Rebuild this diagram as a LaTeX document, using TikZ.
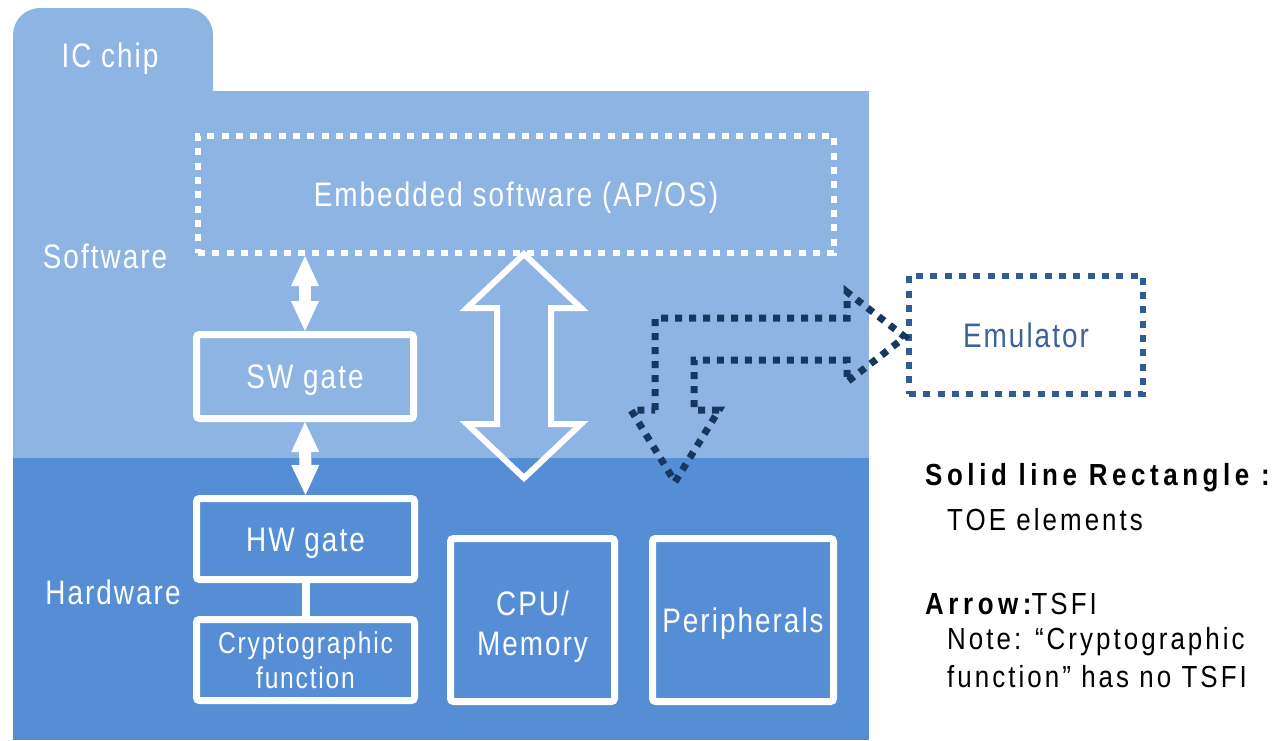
\documentclass[tikz,border=0pt]{standalone}
\usepackage{fontspec}
\setmainfont{Liberation Sans}
\newfontfamily\labfont[FakeStretch=0.82,LetterSpace=6]{Liberation Sans}
\newfontfamily\legfont[FakeStretch=0.85,LetterSpace=10,BoldFeatures={LetterSpace=15}]{Liberation Sans}
\usetikzlibrary{arrows.meta}
\definecolor{lightbg}{HTML}{8EB4E3}
\definecolor{darkbg}{HTML}{558ED5}
\definecolor{arrowdk}{HTML}{17375E}
\definecolor{emuline}{HTML}{2F5C92}
\definecolor{emutext}{HTML}{3B6299}
\begin{document}
\begin{tikzpicture}[x=1pt,y=-1pt,
  lab/.style={text=white, font=\labfont\fontsize{34}{40}\selectfont, align=center},
  oneline/.style={text height=24pt, text depth=0pt},
  toebox/.style={draw=white, line width=7pt, rounded corners=3pt, inner sep=0pt, lab},
  wdots/.style={draw=white, line width=6pt, dash pattern=on 7pt off 7.3pt},
  ddots/.style={draw=arrowdk, line width=7pt, dash pattern=on 7pt off 7pt},
  dblarrow/.style={draw=white, line width=12pt, {Triangle[length=30pt,width=28pt,line width=0pt]}-{Triangle[length=30pt,width=28pt,line width=0pt]}},
  legtext/.style={anchor=west, inner sep=0pt, font=\legfont\fontsize{30.5}{36}\selectfont}
]
\useasboundingbox (0,0) rectangle (1277,740);
% background
\fill[lightbg, rounded corners=27pt] (13,8) rectangle (213,130);
\fill[lightbg] (13,91) rectangle (869,458);
\fill[darkbg] (13,458) rectangle (869,740);

% labels
\node[lab, oneline] (icchip) at (110,55) {IC chip};
\node[lab, oneline] (swlabel) at (105,256) {Software};
\node[lab, oneline] (hwlabel) at (113,592) {Hardware};

% embedded software
\node[wdots, lab, oneline, minimum width=636pt, minimum height=117pt] (emb) at (516,194.5) {Embedded software (AP/OS)};

% boxes
\node[toebox, oneline, minimum width=217pt, minimum height=84pt] (sw) at (305,376.5) {SW gate};
\node[toebox, oneline, minimum width=218pt, minimum height=81pt] (hw) at (305.5,539) {HW gate};
\node[toebox, minimum width=218pt, minimum height=81pt, font=\labfont\fontsize{30}{35}\selectfont] (crypto) at (305.5,660) {Cryptographic\\function};
\node[toebox, minimum width=164pt, minimum height=163pt, text height=77pt, text depth=7pt] (cpu) at (532.5,620) {CPU/\\Memory};
\node[toebox, oneline, minimum width=181pt, minimum height=163pt] (per) at (743,620) {Peripherals};

% connectors
\draw[dblarrow] (emb.south -| sw.north) -- (sw.north);
\draw[dblarrow] (sw.south) -- (hw.north);
\draw[white, line width=8pt] (hw.south) -- (crypto.north);

% big hollow double arrow
\draw[white, line width=6pt, line join=miter]
  (524,254) -- (467,308) -- (497,308) -- (497,424) -- (467,424) -- (524,478)
  -- (581,424) -- (551,424) -- (551,308) -- (581,308) -- cycle;

% emulator
\node[draw=emuline, line width=6pt, dash pattern=on 7pt off 7.3pt, minimum width=234pt, minimum height=118pt, text=emutext, font=\labfont\fontsize{34}{40}\selectfont, oneline] (emu) at (1026,335) {Emulator};

% dotted bent arrow
\draw[ddots, line join=miter]
  (655,410) -- (655,318) -- (847,318) -- (847,292) -- (905,337) -- (847,382)
  -- (847,360) -- (694,360) -- (694,410) -- (719,410) -- (675,482) -- (631,410) -- cycle;

% legend
\node[legtext] (leg1) at (925,478) {\bfseries Solid line Rectangle :};
\node[legtext] (leg2) at (947,520) {TOE elements};
\node[legtext] (leg3) at (925,604) {{\bfseries Arrow:}TSFI};
\node[legtext] (leg4) at (947,642) {Note: “Cryptographic};
\node[legtext] (leg5) at (947,677) {function” has no TSFI};
\end{tikzpicture}
\end{document}
